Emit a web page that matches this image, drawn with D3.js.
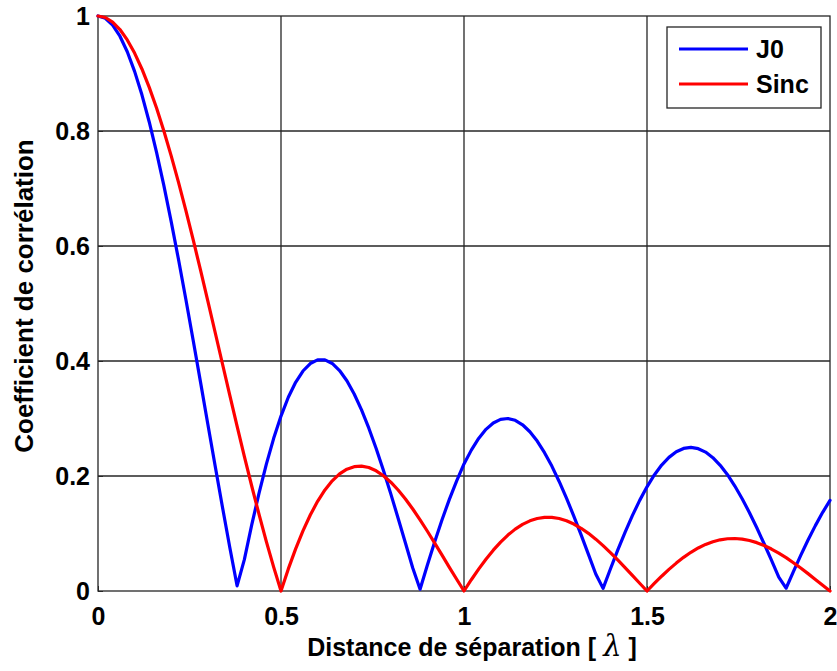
<!DOCTYPE html>
<html>
<head>
<meta charset="utf-8">
<script src="https://cdn.jsdelivr.net/npm/d3@7"></script>
<style>
  html, body { margin: 0; padding: 0; background: #fff; }
  svg { display: block; }
  text { font-family: "Liberation Sans", Arial, sans-serif; font-weight: bold; fill: #000; }
</style>
</head>
<body>
<svg id="chart" width="837" height="671"></svg>
<script>
// Separation distance (in wavelengths), sampled every 0.02
const distances = d3.range(0, 101).map(i => +(i * 0.02).toFixed(2));

// Correlation coefficient, J0 series
const j0Values = [
  1.0000, 0.9961, 0.9843, 0.9648, 0.9378, 0.9037, 0.8629, 0.8157, 0.7629, 0.7049,
  0.6425, 0.5764, 0.5074, 0.4362, 0.3637, 0.2906, 0.2178, 0.1461, 0.0762, 0.0090,
  0.0550, 0.1149, 0.1703, 0.2207, 0.2655, 0.3042, 0.3369, 0.3630, 0.3826, 0.3956,
  0.4020, 0.4020, 0.3957, 0.3834, 0.3657, 0.3426, 0.3149, 0.2831, 0.2478, 0.2096,
  0.1689, 0.1266, 0.0835, 0.0400, 0.0031, 0.0452, 0.0856, 0.1240, 0.1594, 0.1916,
  0.2209, 0.2450, 0.2653, 0.2811, 0.2922, 0.2985, 0.3000, 0.2969, 0.2891, 0.2770,
  0.2607, 0.2406, 0.2172, 0.1905, 0.1615, 0.1303, 0.0975, 0.0638, 0.0295, 0.0046,
  0.0383, 0.0710, 0.1020, 0.1310, 0.1576, 0.1812, 0.2018, 0.2190, 0.2324, 0.2421,
  0.2479, 0.2497, 0.2475, 0.2416, 0.2319, 0.2186, 0.2022, 0.1826, 0.1605, 0.1362,
  0.1099, 0.0822, 0.0536, 0.0243, 0.0048, 0.0336, 0.0618, 0.0886, 0.1137, 0.1368,
  0.1575
];

// Correlation coefficient, Sinc series
const sincValues = [
  1.0000, 0.9974, 0.9895, 0.9765, 0.9584, 0.9355, 0.9079, 0.8759, 0.8399, 0.8000,
  0.7568, 0.7106, 0.6618, 0.6109, 0.5583, 0.5046, 0.4500, 0.3952, 0.3406, 0.2867,
  0.2339, 0.1826, 0.1332, 0.0860, 0.0416, 0.0000, 0.0384, 0.0733, 0.1046, 0.1322,
  0.1559, 0.1757, 0.1916, 0.2036, 0.2118, 0.2162, 0.2171, 0.2147, 0.2090, 0.2004,
  0.1892, 0.1756, 0.1600, 0.1426, 0.1238, 0.1039, 0.0833, 0.0623, 0.0412, 0.0204,
  0.0000, 0.0196, 0.0381, 0.0553, 0.0710, 0.0850, 0.0973, 0.1076, 0.1158, 0.1220,
  0.1261, 0.1281, 0.1281, 0.1261, 0.1221, 0.1164, 0.1091, 0.1003, 0.0902, 0.0789,
  0.0668, 0.0540, 0.0407, 0.0271, 0.0135, 0.0000, 0.0131, 0.0257, 0.0376, 0.0485,
  0.0585, 0.0673, 0.0748, 0.0810, 0.0857, 0.0890, 0.0909, 0.0913, 0.0903, 0.0878,
  0.0841, 0.0791, 0.0730, 0.0659, 0.0580, 0.0492, 0.0399, 0.0302, 0.0202, 0.0101,
  0.0000
];

const seriesNames = ["J0", "Sinc"];
const seriesColors = ["#0000ff", "#ff0000"];

const xTicks = [0, 0.5, 1, 1.5, 2];
const xTickLabels = ["0", "0.5", "1", "1.5", "2"];
const yTicks = [0, 0.2, 0.4, 0.6, 0.8, 1];
const yTickLabels = ["0", "0.2", "0.4", "0.6", "0.8", "1"];

const xTitle = "Distance de séparation [ ";
const xTitleSymbol = "λ";
const xTitleEnd = " ]";
const yTitle = "Coefficient de corrélation";

// ---- layout ----
const svg = d3.select("#chart");
const margin = { left: 98, right: 7, top: 16, bottom: 80 };
const W = 837, H = 671;
const x0 = margin.left, x1 = W - margin.right;
const y0 = margin.top, y1 = H - margin.bottom;

const x = d3.scaleLinear().domain([0, 2]).range([x0, x1]);
const y = d3.scaleLinear().domain([0, 1]).range([y1, y0]);

// grid
const grid = svg.append("g");
grid.selectAll("line.vg").data(xTicks.slice(1, -1)).join("line")
  .attr("x1", d => x(d)).attr("x2", d => x(d))
  .attr("y1", y0).attr("y2", y1)
  .attr("stroke", "#262626").attr("stroke-width", 1.3);
grid.selectAll("line.hg").data(yTicks.slice(1, -1)).join("line")
  .attr("x1", x0).attr("x2", x1)
  .attr("y1", d => y(d)).attr("y2", d => y(d))
  .attr("stroke", "#262626").attr("stroke-width", 1.3);

// frame
svg.append("rect")
  .attr("x", x0).attr("y", y0).attr("width", x1 - x0).attr("height", y1 - y0)
  .attr("fill", "none").attr("stroke", "#262626").attr("stroke-width", 1.3);

const tickFont = sel => sel.style("font-size", "25px")
  .style("font-family", "Liberation Sans, Arial, sans-serif")
  .style("font-weight", "bold").attr("fill", "#000");

// axes (labels with small inward tick marks)
const xAxis = d3.axisBottom(x).tickValues(xTicks)
  .tickFormat((d, i) => xTickLabels[i]).tickSizeInner(-5).tickSizeOuter(0).tickPadding(16);
const gx = svg.append("g").attr("transform", `translate(0,${y1})`).call(xAxis);
gx.select(".domain").remove();
gx.selectAll("line").attr("stroke", "#262626");
gx.selectAll("text").call(tickFont);

const yAxis = d3.axisLeft(y).tickValues(yTicks)
  .tickFormat((d, i) => yTickLabels[i]).tickSizeInner(-5).tickSizeOuter(0).tickPadding(8);
const gy = svg.append("g").attr("transform", `translate(${x0},0)`).call(yAxis);
gy.select(".domain").remove();
gy.selectAll("line").attr("stroke", "#262626");
gy.selectAll("text").call(tickFont);

// curves
const line = d3.line().x(d => x(d[0])).y(d => y(d[1]));
const allSeries = [j0Values, sincValues];
svg.append("g").selectAll("path").data(allSeries).join("path")
  .attr("d", vals => line(distances.map((d, i) => [d, vals[i]])))
  .attr("fill", "none")
  .attr("stroke", (d, i) => seriesColors[i])
  .attr("stroke-width", 3.2)
  .attr("stroke-linejoin", "round")
  .attr("stroke-linecap", "round");

// titles
const xt = svg.append("text")
  .attr("x", (x0 + x1) / 2 + 8).attr("y", 656)
  .attr("text-anchor", "middle")
  .style("font-size", "25px");
xt.append("tspan").text(xTitle);
xt.append("tspan").text(xTitleSymbol)
  .style("font-family", "'DejaVu Serif', 'Liberation Serif', serif")
  .style("font-style", "italic").style("font-weight", "normal").style("font-size", "29px");
xt.append("tspan").text(xTitleEnd);

svg.append("text")
  .attr("transform", `translate(33,296) rotate(-90)`)
  .attr("text-anchor", "middle")
  .style("font-size", "26px")
  .text(yTitle);

// legend
const lg = svg.append("g");
lg.append("rect")
  .attr("x", 667).attr("y", 27).attr("width", 154).attr("height", 81)
  .attr("fill", "#fff").attr("stroke", "#262626").attr("stroke-width", 1.3);
const legendRows = [49, 84];
seriesNames.forEach((name, i) => {
  lg.append("line")
    .attr("x1", 679).attr("x2", 748)
    .attr("y1", legendRows[i]).attr("y2", legendRows[i])
    .attr("stroke", seriesColors[i]).attr("stroke-width", 3.2);
  lg.append("text")
    .attr("x", 756).attr("y", legendRows[i] + 9)
    .style("font-size", "25px")
    .text(name);
});
</script>
</body>
</html>
